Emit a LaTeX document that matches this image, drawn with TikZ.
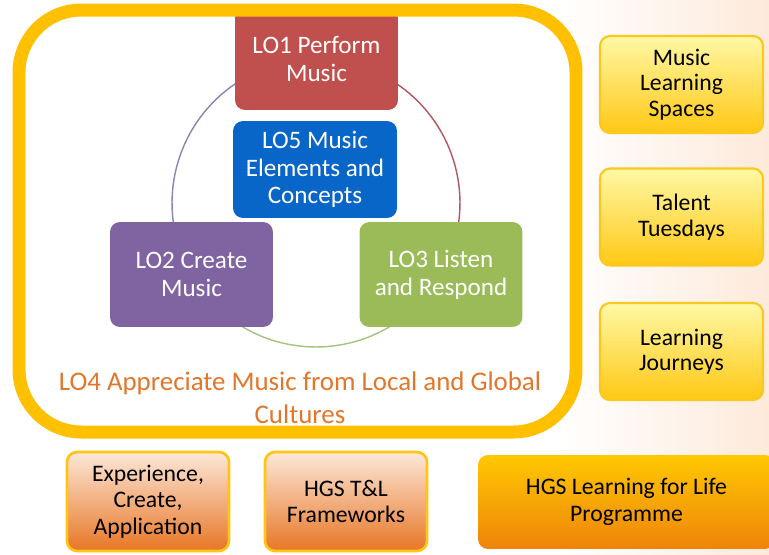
\documentclass[tikz,border=0pt]{standalone}
\usepackage{fontspec}
\setmainfont{Carlito}
\usepackage{tikz}
\definecolor{frameyellow}{RGB}{255,192,0}
\definecolor{lored}{RGB}{192,80,77}
\definecolor{loblue}{RGB}{8,102,200}
\definecolor{lopurple}{RGB}{128,100,162}
\definecolor{logreen}{RGB}{155,187,89}
\definecolor{loorange}{RGB}{226,118,44}
\definecolor{arcpurple}{RGB}{140,132,180}
\definecolor{arcred}{RGB}{176,88,95}
\definecolor{arcgreen}{RGB}{166,194,127}
\tikzset{
  lobox/.style={rounded corners=0.2cm, text=white, align=center, inner sep=0pt,
    minimum width=3.26cm, minimum height=2.04cm, font=\fontsize{14.3}{15.8}\selectfont},
  sidebox/.style={rounded corners=0.2cm, align=center, inner sep=0pt, line width=1.2pt,
    draw={rgb,255:red,250;green,200;blue,30},
    top color={rgb,255:red,255;green,248;blue,165}, bottom color={rgb,255:red,255;green,200;blue,20},
    minimum width=3.26cm, minimum height=1.94cm, font=\fontsize{13.5}{14.5}\selectfont},
  basebox/.style={rounded corners=0.2cm, align=center, inner sep=0pt, line width=1.5pt,
    draw={rgb,255:red,255;green,196;blue,20},
    top color={rgb,255:red,252;green,232;blue,216}, bottom color={rgb,255:red,232;green,118;blue,38},
    minimum width=3.24cm, minimum height=1.98cm, font=\fontsize{13.5}{15}\selectfont},
  cyclearc/.style={line width=0.8pt}
}
\begin{document}
\begin{tikzpicture}[x=0.02cm, y=-0.02cm]
  \useasboundingbox (0,0) rectangle (769,555);
  \clip (0,0) rectangle (769,555);
  \fill [white] (0,0) rectangle (769,555);
  \shade [left color=white, right color={rgb,255:red,253;green,234;blue,218}] (560,0) rectangle (769,555);

  % cycle of the learning outcomes
  \coordinate (cyc) at (316,203);
  \draw [cyclearc, arcpurple] (cyc) ++(124:2.88cm) arc (124:192:2.88cm);
  \draw [cyclearc, arcred] (cyc) ++(56:2.88cm) arc (56:-12:2.88cm);
  \draw [cyclearc, arcgreen] (cyc) ++(234:2.88cm) arc (234:306:2.88cm);

  \node [lobox, fill=lored] (lo1) at (316.5,59) {LO1 Perform\\Music};
  \node [lobox, fill=loblue, minimum width=3.28cm, minimum height=1.94cm] (lo5) at (315,169.5) {LO5 Music\\Elements and\\Concepts};
  \node [lobox, fill=lopurple, minimum height=2.1cm] (lo2) at (191.5,274.5) {LO2 Create\\Music};
  \node [lobox, fill=logreen, minimum height=2.1cm] (lo3) at (441,274.5) {LO3 Listen\\and Respond};

  \node [text=loorange, align=center, font=\fontsize{15.3}{18.5}\selectfont] (lo4) at (300,398)
    {LO4 Appreciate Music from Local and Global\\Cultures};

  \draw [frameyellow, line width=0.26cm, rounded corners=1.25cm] (19,10) rectangle (576,432);

  % side programmes
  \node [sidebox] (spaces) at (681.5,84.5) {Music\\Learning\\Spaces};
  \node [sidebox] (talent) at (681.5,217) {Talent\\Tuesdays};
  \node [sidebox] (journeys) at (681.5,351.5) {Learning\\Journeys};

  % foundations
  \node [basebox] (experience) at (148,501.5) {Experience,\\Create,\\Application};
  \node [basebox] (framework) at (346,501.5) {HGS T\&L\\Frameworks};
  \node [basebox, draw=none, minimum width=5.94cm, minimum height=1.88cm,
    top color={rgb,255:red,255;green,200;blue,0}, bottom color={rgb,255:red,238;green,132;blue,10}]
    (lifelong) at (626.5,502) {HGS Learning for Life\\Programme};
\end{tikzpicture}
\end{document}
